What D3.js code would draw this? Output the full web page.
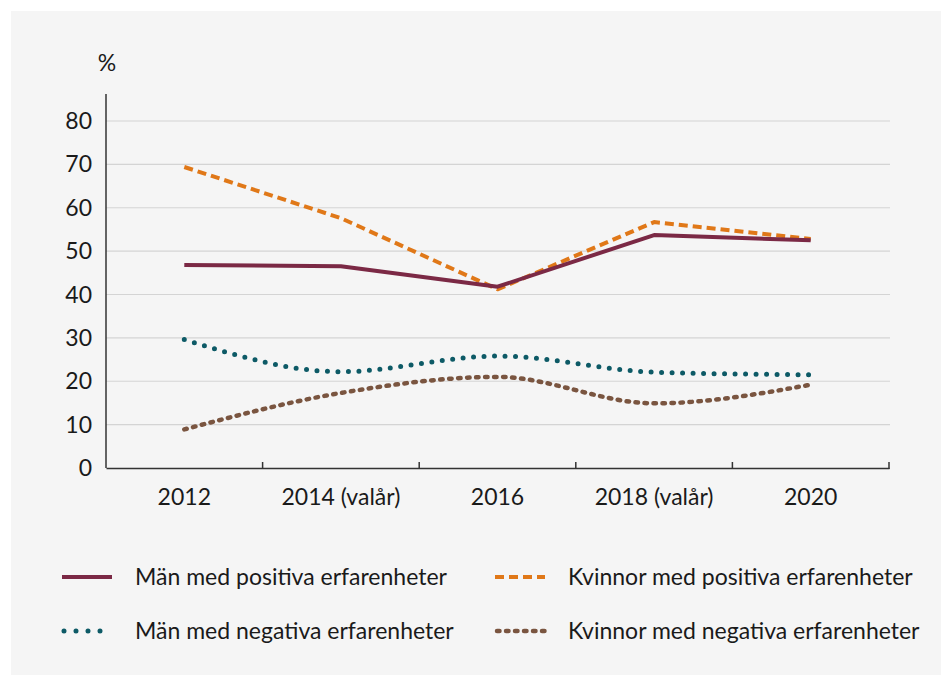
<!DOCTYPE html>
<html>
<head>
<meta charset="utf-8">
<script src="https://cdn.jsdelivr.net/npm/d3@7"></script>
<style>
  body { margin: 0; background: #fff; }
  text { font-family: Lato, "Open Sans", sans-serif; fill: #1a1a1a; }
</style>
</head>
<body>
<div id="chartDiv"></div>
<script>
// DATA
var years = ['2012', '2014 (valår)', '2016', '2018 (valår)', '2020'];
var manPositiva = [46.8, 46.5, 41.8, 53.7, 52.5];
var kvinnorPositiva = [69.4, 57.6, 41.2, 56.7, 52.8];
var manNegativa = [29.6, 22.2, 25.8, 22.1, 21.5];
var kvinnorNegativa = [8.9, 17.3, 21.0, 14.9, 19.2];
var yTicks = [0, 10, 20, 30, 40, 50, 60, 70, 80];
var seriesNames = ['Män med positiva erfarenheter', 'Kvinnor med positiva erfarenheter',
  'Män med negativa erfarenheter', 'Kvinnor med negativa erfarenheter'];

var w = 941, h = 675, fs = '23px';
var svg = d3.select('#chartDiv').append('svg')
  .attr('width', w)
  .attr('height', h);

svg.append('rect')
  .attr('x', 11).attr('y', 11)
  .attr('width', w - 11).attr('height', h - 11)
  .attr('fill', '#f5f5f5');

var padL = 106, padR = 889, padT = 94, padB = 468;

var xScale = d3.scaleBand().domain(years).range([padL, padR]);
var yScale = d3.scaleLinear().domain([0, 80]).range([padB, 121]);

// grid
svg.append('g').selectAll('line')
  .data(yTicks.filter(function(d) { return d > 0; }))
  .enter().append('line')
    .attr('x1', padL).attr('x2', padR + 1)
    .attr('y1', function(d) { return yScale(d); })
    .attr('y2', function(d) { return yScale(d); })
    .attr('stroke', '#d4d4d4')
    .attr('stroke-width', 1.2);

// y labels
svg.append('g').selectAll('text')
  .data(yTicks)
  .enter().append('text')
    .attr('x', 92)
    .attr('y', function(d) { return yScale(d); })
    .attr('dy', '0.35em')
    .attr('text-anchor', 'end')
    .style('font-size', fs)
    .text(function(d) { return d; });

svg.append('text')
  .attr('x', 107).attr('y', 71)
  .attr('text-anchor', 'middle')
  .style('font-size', fs)
  .text('%');

// axes lines
svg.append('line')
  .attr('x1', padL).attr('x2', padL)
  .attr('y1', padT).attr('y2', padB)
  .attr('stroke', '#333').attr('stroke-width', 1.5);

var xAxis = d3.axisBottom(xScale).tickSize(0).tickPadding(21);
var gx = svg.append('g')
  .attr('transform', 'translate(0,' + padB + ')')
  .call(xAxis);
gx.select('.domain').attr('stroke', '#333').attr('stroke-width', 1.5);
gx.selectAll('text').style('font-size', fs).style('font-family', 'Lato, "Open Sans", sans-serif').attr('fill', '#1a1a1a');

// tick marks at band edges
var edges = years.map(function(d) { return xScale(d) + xScale.bandwidth(); });
svg.append('g').selectAll('line')
  .data(edges)
  .enter().append('line')
    .attr('x1', function(d) { return d; })
    .attr('x2', function(d) { return d; })
    .attr('y1', padB - 6).attr('y2', padB + 1)
    .attr('stroke', '#333').attr('stroke-width', 1.5);

var cx = function(i) { return xScale(years[i]) + xScale.bandwidth() / 2; };

var series = [
  { name: seriesNames[0], values: manPositiva, color: '#7b2945', width: 4, dash: null, cap: 'butt', curve: d3.curveLinear },
  { name: seriesNames[1], values: kvinnorPositiva, color: '#e07818', width: 4, dash: '9 5', cap: 'butt', curve: d3.curveLinear },
  { name: seriesNames[2], values: manNegativa, color: '#0d5a66', width: 5, dash: '0 10.5', cap: 'round', curve: d3.curveMonotoneX },
  { name: seriesNames[3], values: kvinnorNegativa, color: '#7a5540', width: 4.5, dash: '2.5 6.5', cap: 'round', curve: d3.curveMonotoneX }
];

var drawOrder = [3, 2, 1, 0];
drawOrder.forEach(function(k) {
  var s = series[k];
  var line = d3.line()
    .x(function(d, i) { return cx(i); })
    .y(function(d) { return yScale(d); })
    .curve(s.curve);
  svg.append('path')
    .datum(s.values)
    .attr('d', line)
    .attr('fill', 'none')
    .attr('stroke', s.color)
    .attr('stroke-width', s.width)
    .attr('stroke-dasharray', s.dash)
    .attr('stroke-linecap', s.cap)
    .attr('stroke-linejoin', 'round');
});

// legend
var legendPos = [
  { x: 62, y: 577 }, { x: 495, y: 577 },
  { x: 62, y: 631 }, { x: 495, y: 631 }
];
series.forEach(function(s, i) {
  var p = legendPos[i];
  svg.append('line')
    .attr('x1', p.x + (s.cap === 'round' ? 2 : 0)).attr('x2', p.x + 50)
    .attr('y1', p.y).attr('y2', p.y)
    .attr('stroke', s.color)
    .attr('stroke-width', s.width)
    .attr('stroke-dasharray', s.dash === '0 10.5' ? '0 12' : s.dash)
    .attr('stroke-linecap', s.cap);
  svg.append('text')
    .attr('x', p.x + 73).attr('y', p.y)
    .attr('dy', '0.35em')
    .style('font-size', fs)
    .text(s.name);
});
</script>
</body>
</html>
